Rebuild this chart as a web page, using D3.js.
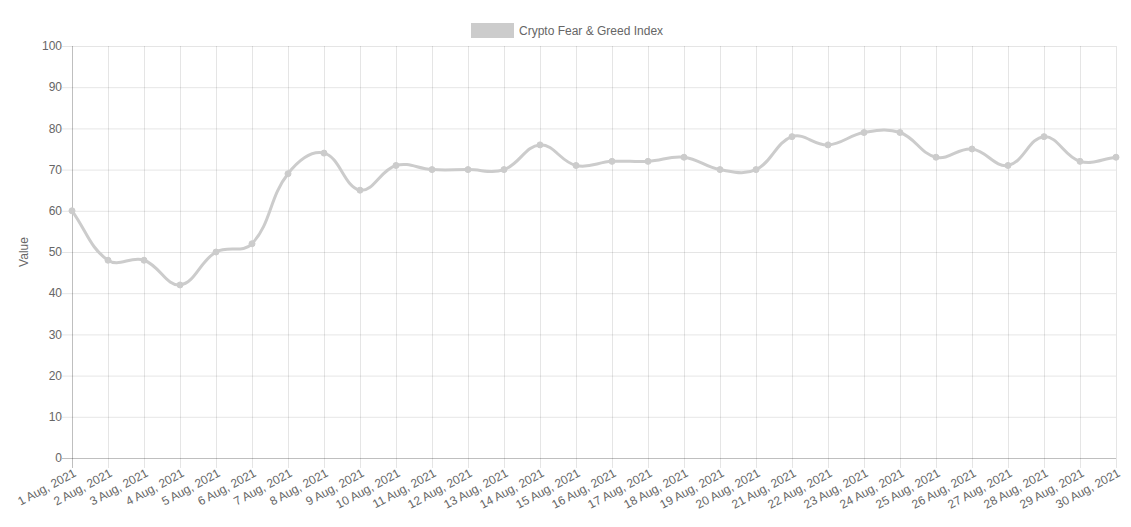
<!DOCTYPE html>
<html>
<head>
<meta charset="utf-8">
<script src="https://cdn.jsdelivr.net/npm/d3@7/dist/d3.min.js"></script>
<style>
  html, body { margin: 0; padding: 0; background: #fff; }
  svg { display: block; }
  text { font-family: "Liberation Sans", Arial, Helvetica, sans-serif; }
</style>
</head>
<body>
<svg id="chart" width="1131" height="527"></svg>
<script>
const categories = ["1 Aug, 2021","2 Aug, 2021","3 Aug, 2021","4 Aug, 2021","5 Aug, 2021","6 Aug, 2021","7 Aug, 2021","8 Aug, 2021","9 Aug, 2021","10 Aug, 2021","11 Aug, 2021","12 Aug, 2021","13 Aug, 2021","14 Aug, 2021","15 Aug, 2021","16 Aug, 2021","17 Aug, 2021","18 Aug, 2021","19 Aug, 2021","20 Aug, 2021","21 Aug, 2021","22 Aug, 2021","23 Aug, 2021","24 Aug, 2021","25 Aug, 2021","26 Aug, 2021","27 Aug, 2021","28 Aug, 2021","29 Aug, 2021","30 Aug, 2021"];
const values = [60,48,48,42,50,52,69,74,65,71,70,70,70,76,71,72,72,73,70,70,78,76,79,79,73,75,71,78,72,73];
const yTicks = [0,10,20,30,40,50,60,70,80,90,100];
const seriesName = "Crypto Fear & Greed Index";
const yTitle = "Value";

const W = 1131, H = 527;
const margin = {left: 72, right: 15, top: 46, bottom: 69};
const svg = d3.select("#chart");
const pL = margin.left, pR = W - margin.right, pT = margin.top, pB = H - margin.bottom;

const x = d3.scalePoint().domain(categories).range([pL, pR]);
const y = d3.scaleLinear().domain([0, 100]).range([pB, pT]);

const gridColor = "rgba(0,0,0,0.1)";
const axisColor = "rgba(0,0,0,0.25)";
const textColor = "#666";

// grid
const grid = svg.append("g");
grid.selectAll("line.v").data(categories).join("line")
  .attr("x1", d => x(d) + 0.5).attr("x2", d => x(d) + 0.5)
  .attr("y1", pT).attr("y2", pB + 10)
  .attr("stroke", (d, i) => i === 0 ? axisColor : gridColor).attr("stroke-width", 1);
grid.selectAll("line.h").data(yTicks).join("line")
  .attr("x1", pL - 10).attr("x2", pR)
  .attr("y1", d => y(d) + 0.5).attr("y2", d => y(d) + 0.5)
  .attr("stroke", d => d === 0 ? axisColor : gridColor).attr("stroke-width", 1);

// y tick labels
svg.append("g").selectAll("text").data(yTicks).join("text")
  .attr("x", pL - 10).attr("y", d => y(d))
  .attr("dy", "0.35em").attr("text-anchor", "end")
  .attr("font-size", 12).attr("fill", textColor)
  .text(d => d);

// x tick labels
svg.append("g").selectAll("text").data(categories).join("text")
  .attr("transform", d => `translate(${x(d) + 3},${pB + 14}) rotate(-28)`)
  .attr("dy", "0.35em").attr("text-anchor", "end")
  .attr("font-size", 12).attr("fill", textColor)
  .text(d => d);

// y title
svg.append("text")
  .attr("transform", `translate(28,${(pT + pB) / 2}) rotate(-90)`)
  .attr("text-anchor", "middle")
  .attr("font-size", 12).attr("fill", textColor)
  .text(yTitle);

// Chart.js-like spline curve (tension 0.4)
function ChartCurve(context) { this._context = context; }
ChartCurve.prototype = {
  areaStart() {}, areaEnd() {},
  lineStart() { this._pts = []; },
  point(px, py) { this._pts.push({x: +px, y: +py}); },
  lineEnd() {
    const p = this._pts, n = p.length, t = 0.4, c = this._context;
    if (!n) return;
    const clampX = v => Math.max(pL, Math.min(pR, v));
    const clampY = v => Math.max(pT, Math.min(pB, v));
    const cps = p.map((cur, i) => {
      const prev = i > 0 ? p[i - 1] : cur;
      const next = i < n - 1 ? p[i + 1] : cur;
      const d01 = Math.hypot(cur.x - prev.x, cur.y - prev.y);
      const d12 = Math.hypot(next.x - cur.x, next.y - cur.y);
      let s01 = d01 / (d01 + d12), s12 = d12 / (d01 + d12);
      if (!isFinite(s01)) s01 = 0;
      if (!isFinite(s12)) s12 = 0;
      const fa = t * s01, fb = t * s12;
      return {
        px: clampX(cur.x - fa * (next.x - prev.x)), py: clampY(cur.y - fa * (next.y - prev.y)),
        nx: clampX(cur.x + fb * (next.x - prev.x)), ny: clampY(cur.y + fb * (next.y - prev.y))
      };
    });
    c.moveTo(p[0].x, p[0].y);
    for (let i = 1; i < n; i++) {
      c.bezierCurveTo(cps[i - 1].nx, cps[i - 1].ny, cps[i].px, cps[i].py, p[i].x, p[i].y);
    }
  }
};
const chartCurve = ctx => new ChartCurve(ctx);

const data = categories.map((c, i) => ({c, v: values[i]}));
const lineColor = "#cccccc";
svg.append("path").datum(data)
  .attr("fill", "none").attr("stroke", lineColor).attr("stroke-width", 3)
  .attr("d", d3.line().x(d => x(d.c)).y(d => y(d.v)).curve(chartCurve));

svg.append("g").selectAll("circle").data(data).join("circle")
  .attr("cx", d => x(d.c)).attr("cy", d => y(d.v)).attr("r", 3)
  .attr("fill", lineColor).attr("stroke", lineColor).attr("stroke-width", 1);

// legend
const legend = svg.append("g");
legend.append("rect").attr("x", 472.5).attr("y", 24.5).attr("width", 40).attr("height", 12)
  .attr("fill", lineColor).attr("stroke", lineColor).attr("stroke-width", 3);
legend.append("text").attr("x", 519).attr("y", 30.5).attr("dy", "0.35em")
  .attr("font-size", 12).attr("fill", textColor).text(seriesName);
</script>
</body>
</html>
